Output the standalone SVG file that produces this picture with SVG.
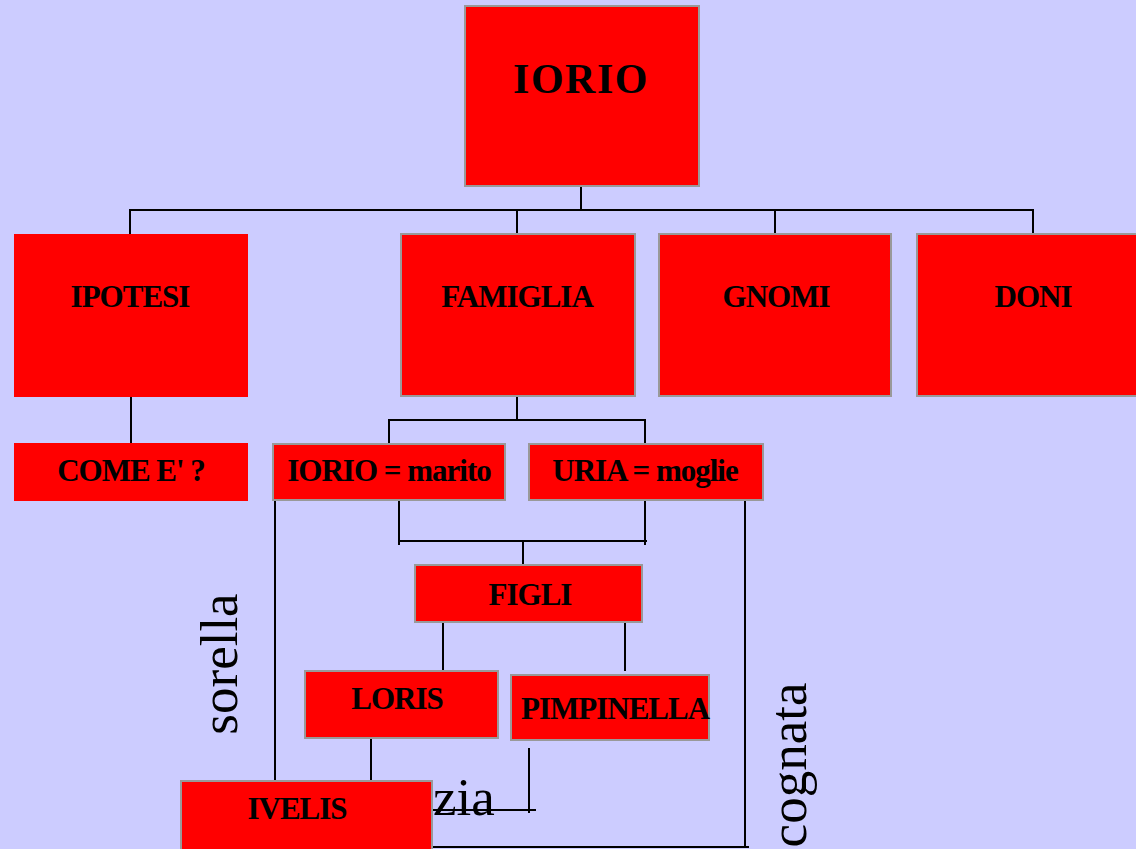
<svg xmlns="http://www.w3.org/2000/svg" width="1136" height="849" viewBox="0 0 1136 849">
<style>
.box{fill:#ff0000;stroke:#999999;stroke-width:2}
.nb{fill:#ff0000;stroke:none}
.lbl{font-family:"Liberation Serif","Times New Roman",serif;font-weight:bold;font-size:31px;letter-spacing:-1px;fill:#000;text-anchor:middle}
.rel{font-family:"Liberation Serif","Times New Roman",serif;font-size:53px;fill:#000}
.ln{stroke:#000;stroke-width:2;fill:none}
</style>
<rect width="1136" height="849" fill="#ccccff"/>
<g id="connectors">
<path class="ln" d="M581,186V210M130,234V210H1033V234M517,210V234M775,210V234"/>
<path class="ln" d="M131,396V443"/>
<path class="ln" d="M517,396V420M389,444V420H645V444"/>
<path class="ln" d="M399,501V545M645,501V545M399,541H647M523,541V565"/>
<path class="ln" d="M443,622V671M625,622V671"/>
<path class="ln" d="M371,738V785"/>
<path class="ln" d="M275,501V785"/>
<path class="ln" d="M529,748V813M432,810H536"/>
<path class="ln" d="M745,501V847M432,847H749"/>
</g>
<g id="n-iorio"><rect class="box" x="465" y="6" width="234" height="180"/><text class="lbl" x="581" y="93" style="font-size:42px;letter-spacing:1.5px">IORIO</text></g>
<g id="n-ipotesi"><rect class="nb" x="14" y="234" width="234" height="163"/><text class="lbl" x="130" y="307">IPOTESI</text></g>
<g id="n-famiglia"><rect class="box" x="401" y="234" width="234" height="162"/><text class="lbl" x="517" y="307">FAMIGLIA</text></g>
<g id="n-gnomi"><rect class="box" x="659" y="234" width="232" height="162"/><text class="lbl" x="776" y="307">GNOMI</text></g>
<g id="n-doni"><rect class="box" x="917" y="234" width="232" height="162"/><text class="lbl" x="1033" y="307">DONI</text></g>
<g id="n-come"><rect class="nb" x="14" y="443" width="234" height="58"/><text class="lbl" x="131" y="481">COME E' ?</text></g>
<g id="n-marito"><rect class="box" x="273" y="444" width="232" height="56"/><text class="lbl" x="389" y="481">IORIO = marito</text></g>
<g id="n-moglie"><rect class="box" x="529" y="444" width="234" height="56"/><text class="lbl" x="645" y="481">URIA = moglie</text></g>
<g id="n-figli"><rect class="box" x="415" y="565" width="227" height="57"/><text class="lbl" x="530" y="605">FIGLI</text></g>
<g id="n-loris"><rect class="box" x="305" y="671" width="193" height="67"/><text class="lbl" x="397" y="709">LORIS</text></g>
<g id="n-pimpinella"><rect class="box" x="511" y="675" width="198" height="65"/><text class="lbl" x="521" y="719" style="text-anchor:start">PIMPINELLA</text></g>
<g id="n-ivelis"><rect class="box" x="181" y="781" width="251" height="72"/><text class="lbl" x="297" y="819">IVELIS</text></g>
<g id="labels">
<text class="rel" transform="translate(237,664) rotate(-90)" text-anchor="middle">sorella</text>
<text class="rel" transform="translate(806,765) rotate(-90)" text-anchor="middle">cognata</text>
<text class="rel" x="433" y="815">zia</text>
</g>
</svg>
